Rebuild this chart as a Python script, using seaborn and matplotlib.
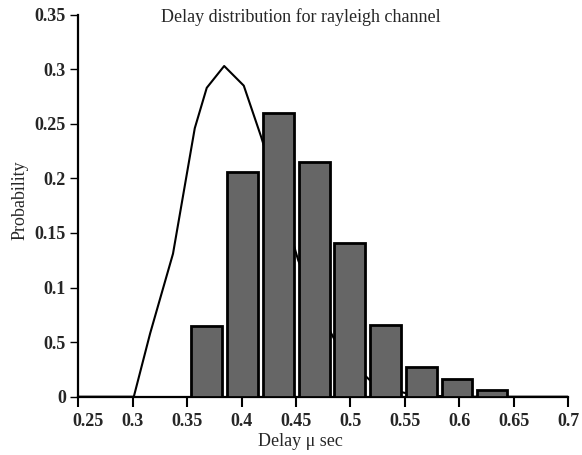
import numpy as np
import pandas as pd
import matplotlib
matplotlib.use('Agg')
import matplotlib.pyplot as plt
import matplotlib.transforms as mtransforms
import seaborn as sns

# Histogram bars (delay in micro-seconds, probability)
bar_centers = [0.368, 0.401, 0.434, 0.467, 0.499, 0.532, 0.565, 0.598, 0.630]
bar_heights = [0.065, 0.206, 0.260, 0.215, 0.141, 0.066, 0.027, 0.016, 0.006]

# Rayleigh curve
line_x = [0.25, 0.301, 0.316, 0.337, 0.357, 0.368, 0.384, 0.402, 0.418, 0.436,
          0.452, 0.468, 0.485, 0.502, 0.518, 0.535, 0.552, 0.57, 0.6, 0.65, 0.7]
line_y = [0.0, 0.0, 0.058, 0.131, 0.246, 0.283, 0.303, 0.285, 0.238, 0.18,
          0.125, 0.085, 0.053, 0.03, 0.015, 0.007, 0.003, 0.001, 0.0, 0.0, 0.0]

x_ticks = [0.25, 0.3, 0.35, 0.4, 0.45, 0.5, 0.55, 0.6, 0.65, 0.7]
x_ticklabels = ['0.25', '0.3', '0.35', '0.4', '0.45', '0.5', '0.55', '0.6', '0.65', '0.7']
y_ticks = [0, 0.05, 0.1, 0.15, 0.2, 0.25, 0.3, 0.35]
y_ticklabels = ['0', '0.5', '0.1', '0.15', '0.2', '0.25', '0.3', '0.35']

sns.set_style('ticks')
plt.rcParams['font.family'] = ['Liberation Serif', 'DejaVu Serif']

fig = plt.figure(figsize=(5.82, 4.55), dpi=100)
ax = fig.add_axes([0.1345, 0.1281, 0.9763 - 0.1345, 0.9677 - 0.1281])

bars = pd.DataFrame({'delay': bar_centers, 'prob': bar_heights})
curve = pd.DataFrame({'delay': line_x, 'prob': line_y})

sns.lineplot(data=curve, x='delay', y='prob', color='black', linewidth=1.5,
             zorder=1, ax=ax)
sns.barplot(data=bars, x='delay', y='prob', native_scale=True, width=0.88,
            color='#666666', saturation=1, edgecolor='black', linewidth=2,
            zorder=3, ax=ax)

ax.set_xlim(0.25, 0.7)
ax.set_ylim(0, 0.35)
ax.set_xticks(x_ticks)
ax.set_xticklabels(x_ticklabels, fontweight='bold')
ax.set_yticks(y_ticks)
ax.set_yticklabels(y_ticklabels, fontweight='bold')
ax.tick_params(axis='x', length=7, width=1.5, labelsize=13, pad=5, color='black')
ax.tick_params(axis='y', length=6, width=1, labelsize=13, pad=3, color='black')

# first x label sits a bit to the right, clear of the "0"
lab0 = ax.get_xticklabels()[0]
lab0.set_transform(lab0.get_transform() +
                   mtransforms.ScaledTranslation(0.1, 0, fig.dpi_scale_trans))

for side in ['top', 'right']:
    ax.spines[side].set_visible(False)
for side in ['left', 'bottom']:
    ax.spines[side].set_linewidth(1.6)
    ax.spines[side].set_color('black')

ax.set_xlabel('')
ax.set_ylabel('')
fig.text(300 / 582, 1 - 441 / 455, 'Delay \u03bc sec', ha='center', va='center', fontsize=13)
fig.text(20 / 582, 1 - 200 / 455, 'Probability', ha='center', va='center',
         rotation=90, fontsize=13)
fig.text(301 / 582, 1 - 17 / 455, 'Delay distribution for rayleigh channel',
         ha='center', va='center', fontsize=13)

fig.savefig('out.png', dpi=100)
